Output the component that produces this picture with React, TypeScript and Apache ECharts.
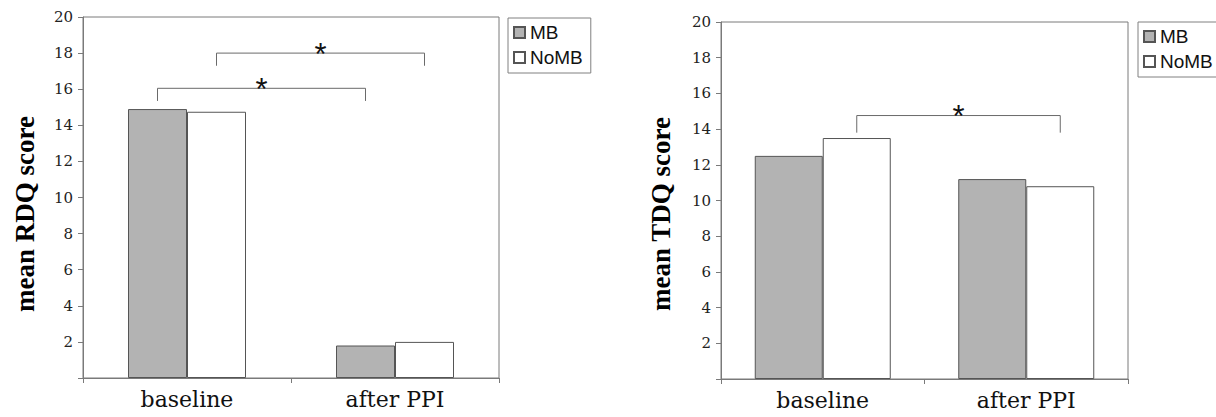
import React, { useEffect, useRef } from "react";
import * as echarts from "echarts";

const categories = ["baseline", "after PPI"];
const seriesNames = ["MB", "NoMB"];
const rdqMB = [14.9, 1.8];
const rdqNoMB = [14.75, 2.0];
const tdqMB = [12.5, 11.2];
const tdqNoMB = [13.5, 10.8];
const yMin = 0;
const yMax = 20;
const yInterval = 2;
// brackets: from category index / bar side (-1 MB, +1 NoMB), to category / side, level, leg end
const rdqBrackets = [
  { from: 0, fromSide: -1, to: 1, toSide: -1, level: 16.05, legEnd: 15.35, label: "*" },
  { from: 0, fromSide: 1, to: 1, toSide: 1, level: 18, legEnd: 17.3, label: "*" },
];
const tdqBrackets = [
  { from: 0, fromSide: 1, to: 1, toSide: 1, level: 14.76, legEnd: 13.8, label: "*" },
];

const TITLE_SERIF = "Liberation Serif";
const LABEL_SERIF = "DejaVu Serif";
const SANS = "Liberation Sans";
const LINE = "#7a7a7a";
const BAR_BORDER = "#555555";
const MB_FILL = "#b3b3b3";

function makeRender(brackets: any[], barW: number) {
  return (params: any, api: any) => {
    const b = brackets[params.dataIndex];
    const a = api.coord([b.from, b.level]);
    const c = api.coord([b.to, b.level]);
    const aEnd = api.coord([b.from, b.legEnd]);
    const cEnd = api.coord([b.to, b.legEnd]);
    const x1 = a[0] + (b.fromSide * barW) / 2;
    const x2 = c[0] + (b.toSide * barW) / 2;
    return {
      type: "group",
      children: [
        {
          type: "polyline",
          shape: { points: [[x1, aEnd[1]], [x1, a[1]], [x2, c[1]], [x2, cEnd[1]]] },
          style: { stroke: "#6a6a6a", lineWidth: 1, fill: "none" },
        },
        {
          type: "text",
          x: (x1 + x2) / 2,
          y: a[1] + 1,
          style: { text: b.label, fontSize: 31, fontFamily: SANS, fill: "#111", align: "center", verticalAlign: "middle" },
        },
      ],
    };
  };
}

function yAxisCfg(gridIndex: number) {
  return {
    type: "value",
    gridIndex,
    min: yMin,
    max: yMax,
    interval: yInterval,
    splitLine: { show: false },
    axisLine: { show: true, lineStyle: { color: LINE, width: 1 } },
    axisTick: { show: true, length: 5, lineStyle: { color: LINE } },
    axisLabel: {
      margin: 10,
      fontSize: 15,
      fontFamily: LABEL_SERIF,
      color: "#222",
      formatter: (v: number) => (v === 0 ? "" : String(v)),
    },
  };
}

function xAxisCfg(gridIndex: number) {
  return {
    type: "category",
    gridIndex,
    data: categories,
    boundaryGap: true,
    axisLine: { show: true, lineStyle: { color: LINE, width: 1 } },
    axisTick: { show: true, length: 5, alignWithLabel: false, lineStyle: { color: LINE } },
    axisLabel: { margin: 10, fontSize: 22, fontFamily: LABEL_SERIF, color: "#111" },
  };
}

function barSeries(name: string, data: number[], idx: number, barW: number, fill: string) {
  return {
    type: "bar",
    name,
    data,
    xAxisIndex: idx,
    yAxisIndex: idx,
    barWidth: barW,
    barGap: "0%",
    itemStyle: { color: fill, borderColor: BAR_BORDER, borderWidth: 1 },
  };
}

function legendCfg(left: number, top: number) {
  return {
    show: true,
    data: seriesNames,
    orient: "vertical",
    left,
    top,
    itemWidth: 11,
    itemHeight: 11,
    itemGap: 6,
    icon: "rect",
    padding: [5, 8, 6, 5],
    borderColor: "#808080",
    borderWidth: 1,
    backgroundColor: "#fff",
    selectedMode: false,
    textStyle: { fontSize: 19, fontFamily: SANS, color: "#111" },
  };
}

export default function App() {
  const ref = useRef<HTMLDivElement>(null);
  useEffect(() => {
    if (!ref.current) return;
    const chart = echarts.init(ref.current, undefined, { renderer: "svg" });
    const leftBarW = 59;
    const rightBarW = 68;
    chart.setOption({
      animation: false,
      backgroundColor: "#ffffff",
      grid: [
        { left: 83, top: 17, width: 416, height: 361, show: true, borderColor: LINE, borderWidth: 1, backgroundColor: "transparent" },
        { left: 721, top: 22, width: 407, height: 357, show: true, borderColor: LINE, borderWidth: 1, backgroundColor: "transparent" },
      ],
      legend: [legendCfg(508, 18), legendCfg(1138, 22)],
      xAxis: [xAxisCfg(0), xAxisCfg(1)],
      yAxis: [yAxisCfg(0), yAxisCfg(1)],
      series: [
        barSeries("MB", rdqMB, 0, leftBarW, MB_FILL),
        barSeries("NoMB", rdqNoMB, 0, leftBarW, "#ffffff"),
        barSeries("MB", tdqMB, 1, rightBarW, MB_FILL),
        barSeries("NoMB", tdqNoMB, 1, rightBarW, "#ffffff"),
        {
          type: "custom",
          name: "sigRDQ",
          xAxisIndex: 0,
          yAxisIndex: 0,
          clip: false,
          data: rdqBrackets.map((b) => [b.from, b.level]),
          renderItem: makeRender(rdqBrackets, leftBarW),
          z: 5,
        },
        {
          type: "custom",
          name: "sigTDQ",
          xAxisIndex: 1,
          yAxisIndex: 1,
          clip: false,
          data: tdqBrackets.map((b) => [b.from, b.level]),
          renderItem: makeRender(tdqBrackets, rightBarW),
          z: 5,
        },
      ],
      graphic: [
        {
          type: "text",
          x: 25,
          y: 214,
          rotation: Math.PI / 2,
          style: { text: "mean RDQ score", fontSize: 27, fontWeight: "bold", fontFamily: TITLE_SERIF, fill: "#000", align: "center", verticalAlign: "middle" },
        },
        {
          type: "text",
          x: 661,
          y: 214,
          rotation: Math.PI / 2,
          style: { text: "mean TDQ score", fontSize: 27, fontWeight: "bold", fontFamily: TITLE_SERIF, fill: "#000", align: "center", verticalAlign: "middle" },
        },
      ],
    });
    return () => chart.dispose();
  }, []);
  return (
    <div ref={ref} style={{ position: "fixed", left: 0, top: 0, width: 1216, height: 417, background: "#fff" }} />
  );
}
